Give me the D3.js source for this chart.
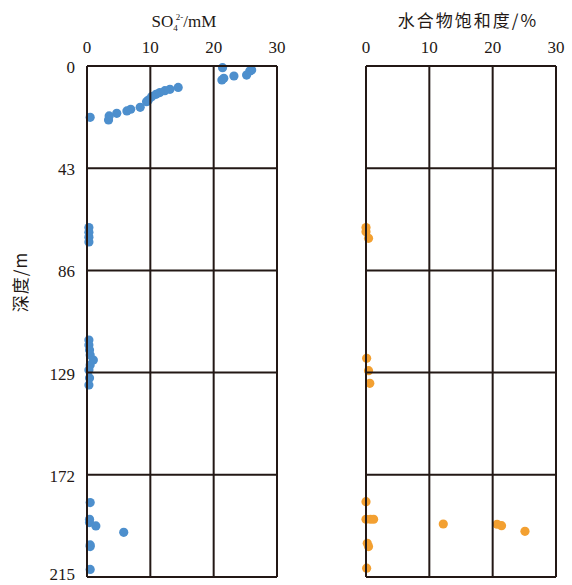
<!DOCTYPE html>
<html>
<head>
<meta charset="utf-8">
<script src="https://cdn.jsdelivr.net/npm/d3@7"></script>
<style>
  body { margin: 0; background: #fff; }
  svg text { font-family: "Liberation Serif", "DejaVu Serif", serif; fill: #231815; }
</style>
</head>
<body>
<div id="chart"></div>
<script>
// depth (m) axis
var depthTicks = [0, 43, 86, 129, 172, 215];
var xTicks = [0, 10, 20, 30];

// SO4 2- concentration (mM) vs depth
var soDepth = [0.7, 1.7, 2.1, 3.8, 4.2, 5.2, 5.9,
  9.0, 9.8, 10.4, 11.2, 11.9, 12.9, 14.3, 15.0, 17.4, 18.2, 18.9, 19.9, 21.0, 22.7, 21.6,
  68, 70, 72, 74,
  115.3, 117.4, 119.5, 121.6, 123.7, 125.8, 127.9, 131.3, 134.2,
  183.7, 190.7, 192.1, 193.5, 196.2, 201.5, 202.2, 211.8];
var soValue = [21.4, 26.0, 25.7, 25.2, 23.2, 21.6, 21.3,
  14.4, 13.1, 12.3, 11.5, 10.9, 10.2, 9.7, 9.4, 8.4, 6.9, 6.3, 4.7, 3.5, 3.4, 0.5,
  0.3, 0.3, 0.3, 0.3,
  0.3, 0.3, 0.4, 0.5, 1.0, 0.5, 0.3, 0.4, 0.3,
  0.5, 0.4, 0.4, 1.4, 5.8, 0.5, 0.5, 0.5];

// hydrate saturation (%) vs depth
var hyDepth = [68, 69.7, 72.5, 123, 128.2, 133.5, 183.3, 190.7, 190.7, 190.7, 192.7, 192.8, 193.4, 195.8, 200.8, 202.2, 211.3];
var hyValue = [0, 0, 0.4, 0.1, 0.4, 0.6, 0, 0, 0.7, 1.2, 12.2, 20.7, 21.4, 25.1, 0.2, 0.4, 0.1];

var width = 572, height = 585;
var ink = "#231815";

var svg = d3.select("#chart").append("svg")
    .attr("width", width)
    .attr("height", height);

var y = d3.scaleLinear().domain([0, 215]).range([66, 577]);

var panels = [
  {x0: 87, x1: 277, depth: soDepth, value: soValue, color: "#4d8fcd", title: "so4"},
  {x0: 366, x1: 556, depth: hyDepth, value: hyValue, color: "#f3a031", title: "水合物饱和度/%"}
];

panels.forEach(function(p) {
  var x = d3.scaleLinear().domain([0, 30]).range([p.x0, p.x1]);
  var g = svg.append("g");

  // points first, frame on top like the original
  g.selectAll("circle")
    .data(p.depth.map(function(d, i) { return [p.value[i], d]; }))
    .enter()
    .append("circle")
    .attr("cx", function(d) { return x(d[0]); })
    .attr("cy", function(d) { return y(d[1]); })
    .attr("r", 4.6)
    .style("fill", p.color);

  // grid
  g.selectAll("line.v")
    .data(xTicks)
    .enter().append("line")
    .attr("x1", function(d) { return x(d); })
    .attr("x2", function(d) { return x(d); })
    .attr("y1", y(0)).attr("y2", y(215))
    .style("stroke", ink).style("stroke-width", 2);

  g.selectAll("line.h")
    .data(depthTicks)
    .enter().append("line")
    .attr("x1", x(0)).attr("x2", x(30))
    .attr("y1", function(d) { return y(d); })
    .attr("y2", function(d) { return y(d); })
    .style("stroke", ink).style("stroke-width", 2);

  // top tick labels
  g.selectAll("text.tick")
    .data(xTicks)
    .enter().append("text")
    .attr("x", function(d) { return x(d); })
    .attr("y", 53)
    .attr("text-anchor", "middle")
    .style("font-size", "17px")
    .text(function(d) { return d; });

  var cx = (p.x0 + p.x1) / 2;
  if (p.title == "so4") {
    var t = g.append("text")
      .attr("x", cx + 2).attr("y", 27)
      .attr("text-anchor", "middle")
      .style("font-size", "17px");
    t.append("tspan").text("SO");
    t.append("tspan").text("4").style("font-size", "9px").attr("dy", 4);
    t.append("tspan").text("2-").style("font-size", "9px").attr("dy", -11).attr("dx", -2);
    t.append("tspan").text("/mM").attr("dy", 7);
  } else {
    g.append("text")
      .attr("x", cx + 7).attr("y", 27)
      .attr("text-anchor", "middle")
      .style("font-family", "'Noto Sans CJK SC', sans-serif")
      .style("font-size", "17px")
      .style("letter-spacing", "2px")
      .text(p.title);
  }
});

// depth labels (last one sits right at the lower edge)
svg.selectAll("text.depth")
  .data(depthTicks)
  .enter().append("text")
  .attr("x", 75)
  .attr("y", function(d) { return d == 215 ? 580 : y(d) + 7; })
  .attr("text-anchor", "end")
  .style("font-size", "17px")
  .text(function(d) { return d; });

svg.append("text")
  .attr("transform", "translate(27,282) rotate(-90)")
  .attr("text-anchor", "middle")
  .style("font-family", "'Noto Sans CJK SC', serif")
  .style("font-size", "17px")
  .style("letter-spacing", "1px")
  .text("深度/m");
</script>
</body>
</html>
